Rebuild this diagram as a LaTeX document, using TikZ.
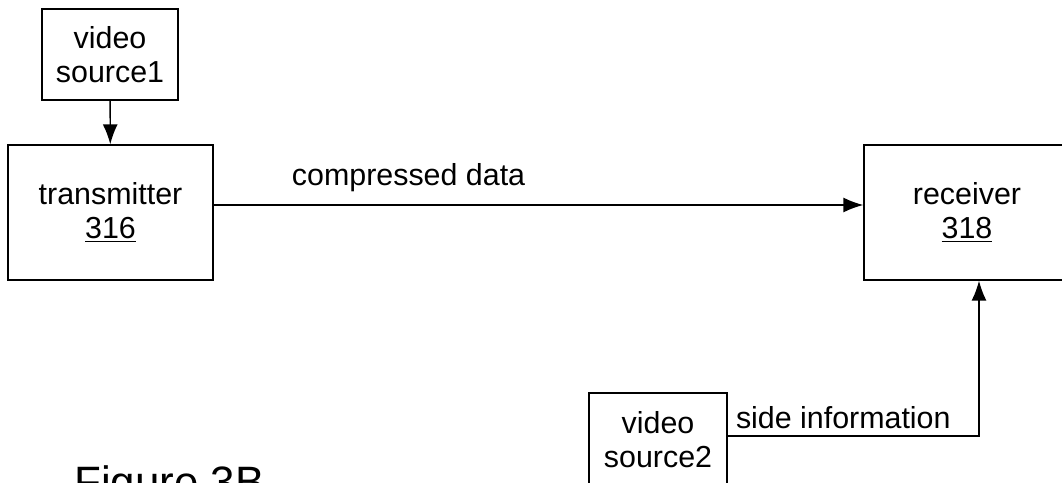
\documentclass[tikz,border=0pt]{standalone}
\usepackage{fontspec}
\setmainfont{Liberation Sans}
\usepackage{tikz}
\usetikzlibrary{arrows.meta}
\usetikzlibrary{positioning}
\tikzset{
    bloc/.style = {draw, rectangle, align=center, line width=0.8pt,
        font=\fontsize{17.3}{19.5}\selectfont},
    lien/.style = {line width=0.8pt, -{Latex[length=0.4cm, width=0.3cm]}},
    etiq/.style = {font=\fontsize{17.3}{19.5}\selectfont},
    >=Latex
}

\begin{document}
\begin{tikzpicture}[x=0.02cm, y=-0.02cm]
                \clip (0,0) rectangle (1062,483);
                \node (S1) [bloc, minimum width=2.72cm, minimum height=1.82cm] at (110,54.5) {video\\source1};
                \node (T) [bloc, minimum width=4.1cm, minimum height=2.7cm] at (110.5,212.5) {transmitter\\\underline{316}};
                \node (R) [bloc, minimum width=4.12cm, minimum height=2.7cm] at (967,212.5) {receiver\\\underline{318}};
                \node (S2) [bloc, minimum width=2.76cm, minimum height=1.88cm] at (658,440) {video\\source2};
                \node (fig) [anchor=base west, font=\fontsize{25}{30}\selectfont] at (68,497) {Figure 3B};
                \draw[lien] (S1) -- (T);
                \draw[lien] ([yshift=0.15cm]T.east) -- ([yshift=0.15cm]T.east -| R.west)
                    node[etiq, pos=0.3, yshift=0.54cm] {compressed data};
                \draw[lien] ([yshift=0.08cm]S2.east) -| ([xshift=0.24cm]R.south)
                    node[etiq, pos=0.23, yshift=0.36cm] {side information};
            \end{tikzpicture}
\end{document}
